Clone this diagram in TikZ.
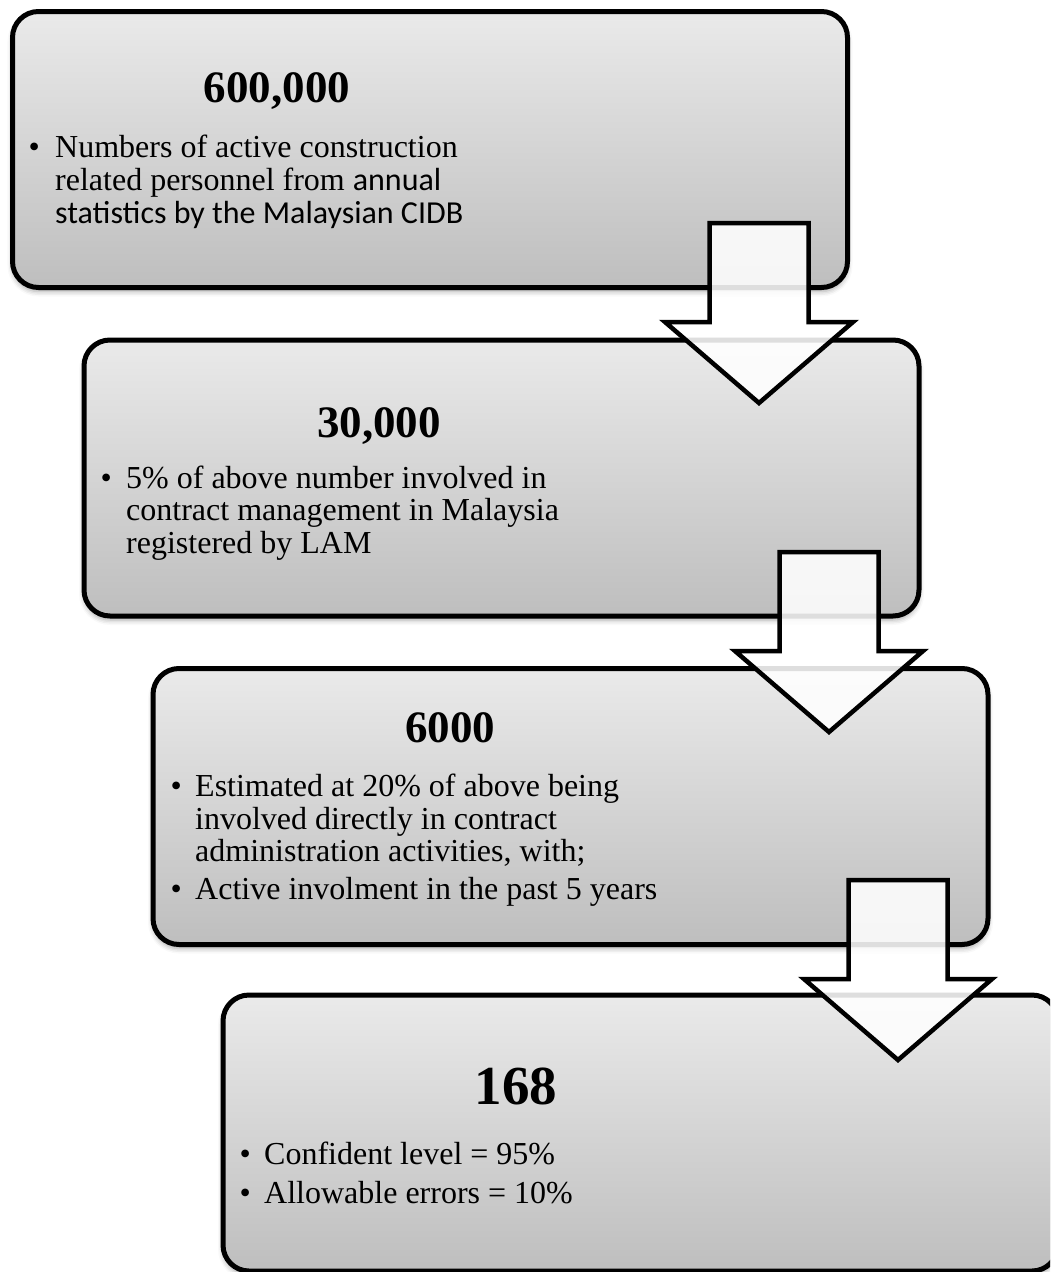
\documentclass[tikz,border=0pt]{standalone}
\usepackage{fontspec}
\setmainfont{Liberation Serif}
\newfontfamily\calibri{Carlito}
\usetikzlibrary{shadows.blur}

\definecolor{panelTop}{RGB}{234,234,234}
\definecolor{panelBottom}{RGB}{190,190,190}

\tikzset{
  panel/.style={draw=black, line width=5pt, rounded corners=26pt,
    rectangle, minimum width=835pt, minimum height=276pt, inner sep=0pt,
    top color=panelTop, bottom color=panelBottom,
    blur shadow={shadow xshift=0pt, shadow yshift=-4pt,
      shadow blur radius=5pt, shadow opacity=35}},
  flowarrow/.style={draw=black, line width=4.5pt, fill=white,
    fill opacity=0.87, draw opacity=1},
  downarrow/.pic={
    \draw[flowarrow] (-49.5,-180) -- (49.5,-180) -- (49.5,-81) -- (94,-81)
      -- (0,0) -- (-94,-81) -- (-49.5,-81) -- cycle;},
  headline/.style={anchor=base, inner sep=0pt, font=\bfseries\fontsize{45}{54}\selectfont},
  bodyline/.style={anchor=base west, inner sep=0pt, font=\fontsize{32}{38}\selectfont},
}

\begin{document}
\begin{tikzpicture}[x=1pt, y=-1pt]
  \useasboundingbox (0,0) rectangle (1050,1272);
  \clip (0,0) rectangle (1050,1272);

  % stage panels
  \node[panel] (p1) at (430,149.5) {};
  \node[panel] (p2) at (501.5,478) {};
  \node[panel] (p3) at (570.5,806.5) {};
  \node[panel] (p4) at (640.5,1133) {};

  % stage 1
  \node[headline] (h1) at (277,102) {600,000};
  \node[bodyline] (d1) at (28.5,157) {\textbullet};
  \node[bodyline] (l11) at (55,157) {Numbers of active construction};
  \node[bodyline] (l12) at (55,190) {related personnel from {\calibri annual}};
  \node[bodyline] (l13) at (55,223) {\calibri statistics by the Malaysian CIDB};

  % stage 2
  \node[headline] (h2) at (379,437) {30,000};
  \node[bodyline] (d2) at (100.5,488) {\textbullet};
  \node[bodyline] (l21) at (126,488) {5\% of above number involved in};
  \node[bodyline] (l22) at (126,520.5) {contract management in Malaysia};
  \node[bodyline] (l23) at (126,553.5) {registered by LAM};

  % stage 3
  \node[headline] (h3) at (450,742) {6000};
  \node[bodyline] (d31) at (170.5,796.5) {\textbullet};
  \node[bodyline] (l31) at (195,796.5) {Estimated at 20\% of above being};
  \node[bodyline] (l32) at (195,829) {involved directly in contract};
  \node[bodyline] (l33) at (195,861) {administration activities, with;};
  \node[bodyline] (d32) at (170.5,899) {\textbullet};
  \node[bodyline] (l34) at (195,899) {Active involment in the past 5 years};

  % stage 4
  \node[headline, font=\bfseries\fontsize{55}{66}\selectfont] (h4) at (516,1104) {168};
  \node[bodyline] (d41) at (239.5,1164) {\textbullet};
  \node[bodyline] (l41) at (264,1164) {Confident level = 95\%};
  \node[bodyline] (d42) at (239.5,1203) {\textbullet};
  \node[bodyline] (l42) at (264,1203) {Allowable errors = 10\%};

  % block arrows between stages
  \coordinate (tip1) at (759,403);
  \coordinate (tip2) at (829,732);
  \coordinate (tip3) at (898,1060);
  \pic (a1) at (tip1) {downarrow};
  \pic (a2) at (tip2) {downarrow};
  \pic (a3) at (tip3) {downarrow};
\end{tikzpicture}
\end{document}
